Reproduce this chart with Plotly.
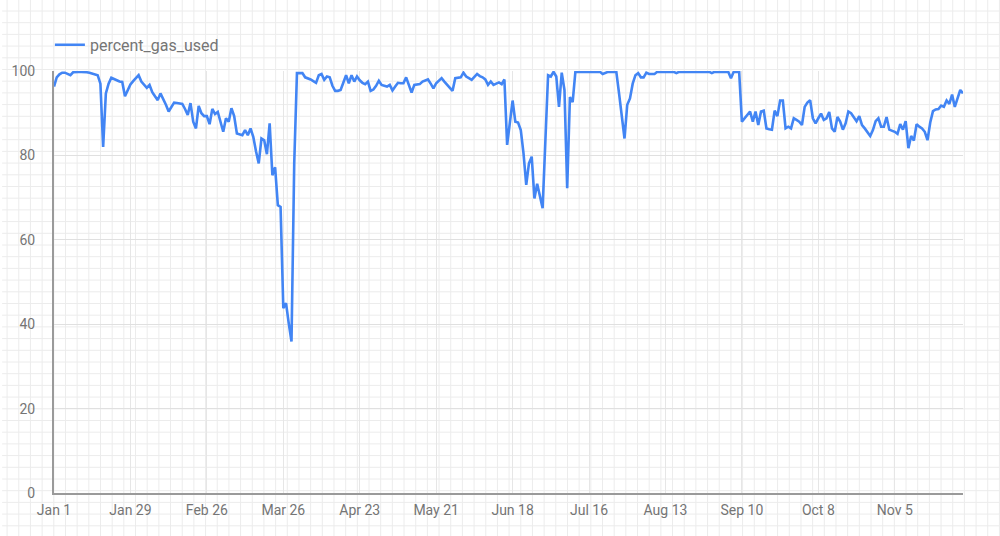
import pandas as pd
import plotly.graph_objects as go

series_name = "percent_gas_used"
start_date = "2018-01-01"
percent_gas_used = [
    96.3, 98.5, 99.2, 99.6, 99.6, 99.3, 99.0, 99.7, 99.8, 99.8,
    99.8, 99.8, 99.7, 99.6, 99.4, 99.2, 99.0, 97.0, 82.0, 94.7,
    97.0, 98.4, 98.0, 97.8, 97.5, 97.4, 94.0, 95.6, 96.8, 97.6,
    98.3, 99.0, 97.5, 96.8, 96.0, 96.7, 95.0, 94.0, 93.1, 94.7,
    93.5, 92.0, 90.4, 91.5, 92.5, 92.4, 92.3, 92.2, 91.0, 89.6,
    92.4, 88.0, 86.4, 91.7, 90.0, 89.3, 89.3, 87.4, 91.0, 89.8,
    90.3, 88.0, 85.6, 88.8, 88.0, 91.2, 89.3, 85.2, 85.0, 84.8,
    86.0, 84.8, 86.4, 84.4, 81.0, 78.1, 84.0, 83.6, 80.3, 87.6,
    75.3, 77.2, 68.2, 67.8, 43.8, 45.0, 40.2, 35.9, 78.0, 99.5,
    99.5, 99.5, 98.5, 98.3, 98.0, 97.6, 97.2, 99.0, 99.3, 97.9,
    98.7, 98.5, 96.5, 95.3, 95.3, 95.5, 97.1, 99.0, 97.1, 99.0,
    97.5, 98.7, 97.8, 97.2, 96.9, 97.5, 95.3, 95.6, 96.5, 97.7,
    96.7, 96.5, 96.3, 96.7, 95.4, 96.3, 97.2, 97.1, 97.1, 98.5,
    96.5, 94.9, 96.7, 96.8, 96.9, 97.5, 97.8, 98.0, 97.0, 95.9,
    97.1, 97.6, 98.3, 97.5, 96.7, 96.0, 95.3, 98.3, 98.4, 98.5,
    99.6, 98.7, 98.3, 97.9, 98.6, 99.3, 98.8, 98.5, 98.0, 96.7,
    97.5, 96.7, 97.0, 97.3, 96.9, 98.0, 82.5, 88.0, 93.0, 88.0,
    87.8, 86.0, 80.5, 73.0, 78.1, 79.7, 69.8, 73.3, 70.1, 67.5,
    83.3, 99.0, 98.7, 99.8, 98.7, 91.5, 99.6, 95.5, 72.2, 93.8,
    92.6, 99.8, 99.8, 99.8, 99.8, 99.8, 99.8, 99.8, 99.8, 99.8,
    99.8, 99.3, 99.6, 99.8, 99.8, 99.8, 99.8, 94.7, 89.0, 84.0,
    92.0, 93.5, 97.0, 99.0, 99.5, 98.5, 98.5, 99.6, 99.3, 99.3,
    99.3, 99.8, 99.8, 99.8, 99.8, 99.8, 99.8, 99.8, 99.5, 99.8,
    99.8, 99.8, 99.8, 99.8, 99.8, 99.8, 99.8, 99.8, 99.8, 99.8,
    99.8, 99.5, 99.8, 99.8, 99.8, 99.8, 99.8, 99.8, 98.3, 99.8,
    99.8, 99.8, 88.0, 88.8, 89.5, 90.4, 88.0, 90.4, 87.2, 90.4,
    90.6, 86.4, 86.2, 86.1, 90.6, 89.3, 93.0, 93.0, 86.4, 86.8,
    86.4, 88.8, 88.4, 88.0, 87.2, 91.5, 92.5, 93.1, 88.8, 87.6,
    88.8, 89.9, 88.4, 88.8, 90.3, 86.4, 85.6, 89.1, 88.0, 86.1,
    87.6, 90.4, 90.0, 89.0, 88.1, 89.3, 87.2, 86.4, 85.5, 84.6,
    86.0, 88.1, 88.8, 86.8, 86.8, 89.1, 86.1, 85.8, 85.6, 85.1,
    87.4, 86.1, 88.1, 81.7, 84.6, 83.5, 87.4, 86.8, 86.4, 85.6,
    83.6, 87.8, 90.5, 90.9, 91.0, 91.8, 91.5, 93.0, 92.2, 94.4,
    91.5, 93.5, 95.5, 94.7,
]
x_tick_labels = ["Jan 1", "Jan 29", "Feb 26", "Mar 26", "Apr 23", "May 21",
                 "Jun 18", "Jul 16", "Aug 13", "Sep 10", "Oct 8", "Nov 5"]
x_tick_step_days = 28
y_tick_values = [0, 20, 40, 60, 80, 100]

dates = pd.date_range(start_date, periods=len(percent_gas_used), freq="D")
tick_dates = [dates[0] + pd.Timedelta(days=x_tick_step_days * i) for i in range(len(x_tick_labels))]

W, H = 1000, 536
L, R, T, B = 52, 37, 71, 43
pw, ph = W - L - R, H - T - B

fig = go.Figure()
fig.add_trace(go.Scatter(
    x=dates, y=percent_gas_used, mode="lines", name=series_name,
    line=dict(color="#4285F4", width=2.6), showlegend=True,
))

# page background grid (canvas pattern), positioned in pixels
shapes = []
grid_col = "#ececec"
step = 11.7
y_bottom = (T + ph - H) / ph
y_top = (T + ph) / ph
x_left = -L / pw
x_right = (W - L) / pw
gx = 5.0
while gx < W:
    xp = (gx - L) / pw
    shapes.append(dict(type="line", xref="paper", yref="paper", x0=xp, x1=xp,
                       y0=y_bottom, y1=y_top,
                       line=dict(color=grid_col, width=1), layer="below"))
    gx += step
gy = 11.0
while gy < H:
    yp = (T + ph - gy) / ph
    shapes.append(dict(type="line", xref="paper", yref="paper", x0=x_left, x1=x_right,
                       y0=yp, y1=yp, line=dict(color=grid_col, width=1), layer="below"))
    gy += step

font_col = "#757575"
fig.update_layout(
    width=W, height=H,
    margin=dict(l=L, r=R, t=T, b=B, pad=0),
    paper_bgcolor="white", plot_bgcolor="rgba(0,0,0,0)",
    font=dict(family="Roboto, Arial, sans-serif", size=14, color=font_col),
    shapes=shapes,
    legend=dict(orientation="h", x=-0.0045, xanchor="left", y=1.062, yanchor="middle",
                font=dict(size=16, color=font_col), bgcolor="rgba(0,0,0,0)",
                itemwidth=30),
    xaxis=dict(
        range=[dates[0], dates[-1]], tickvals=tick_dates, ticktext=x_tick_labels,
        showgrid=True, gridcolor="#e6e6e6", gridwidth=1,
        showline=True, linecolor="#9a9a9a", linewidth=2,
        ticks="", ticklabelstandoff=3, zeroline=False,
        tickfont=dict(size=14, color=font_col),
    ),
    yaxis=dict(
        range=[0, 100], tickvals=y_tick_values,
        showgrid=True, gridcolor="#e0e0e0", gridwidth=1,
        showline=True, linecolor="#9a9a9a", linewidth=2,
        ticks="", ticklabelstandoff=14, zeroline=False,
        tickfont=dict(size=14, color=font_col),
    ),
)

fig.write_html(
    "out.html",
    config={"displayModeBar": False},
    post_script="document.body.style.margin='0';document.body.style.overflow='hidden';",
)
